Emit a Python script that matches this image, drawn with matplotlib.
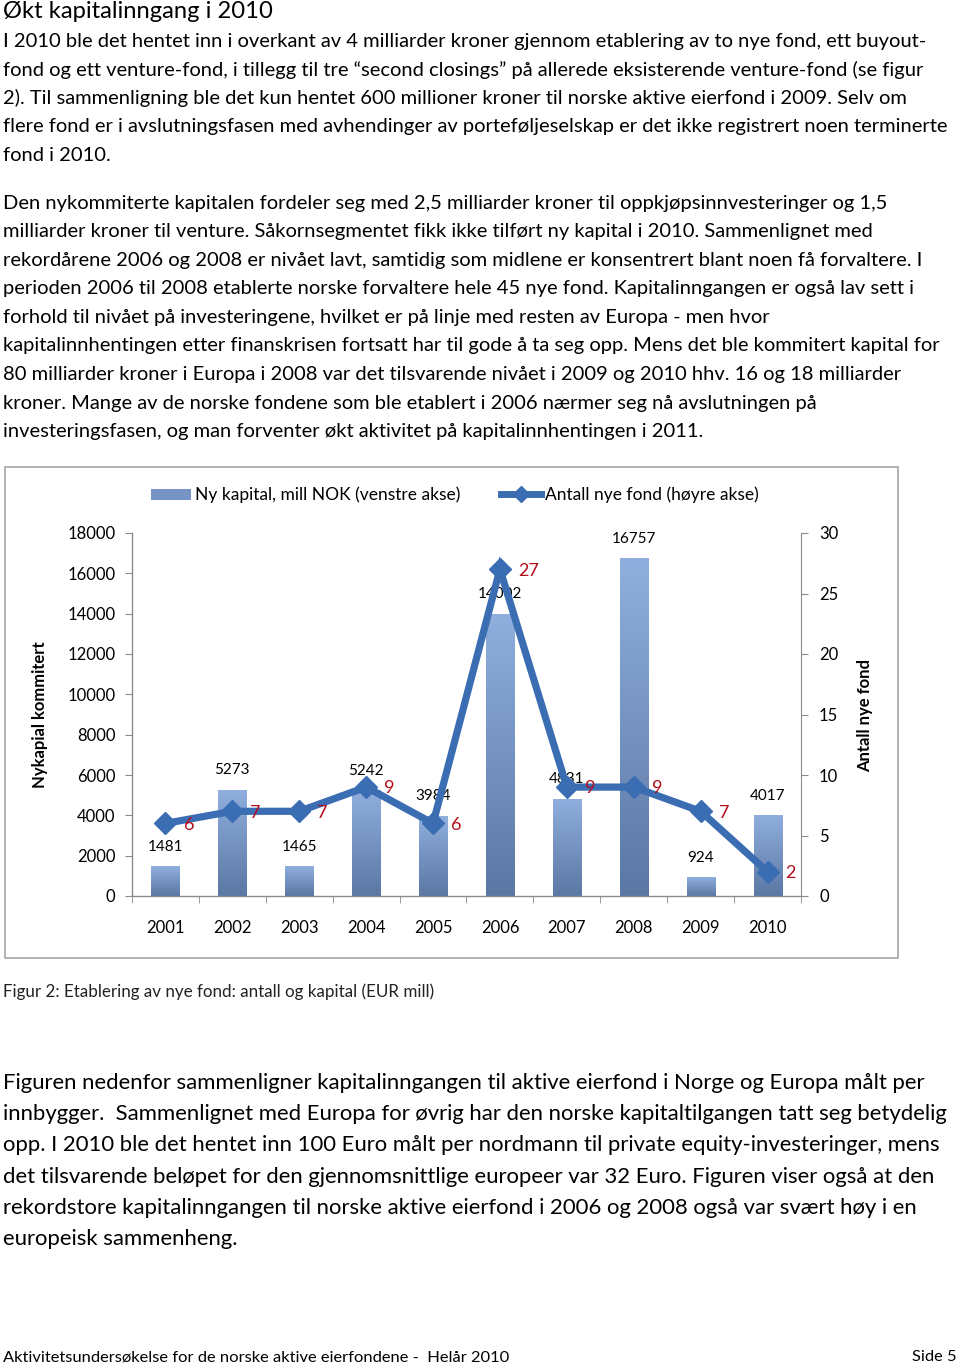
import numpy as np
import matplotlib
matplotlib.use("Agg")
import matplotlib.pyplot as plt
from matplotlib import font_manager
from matplotlib.colors import LinearSegmentedColormap
from matplotlib.patches import Patch, Rectangle
from matplotlib.lines import Line2D

# ---------------- data ----------------
years = ["2001", "2002", "2003", "2004", "2005", "2006", "2007", "2008", "2009", "2010"]
capital = [1481, 5273, 1465, 5242, 3984, 14002, 4831, 16757, 924, 4017]
funds = [6, 7, 7, 9, 6, 27, 9, 9, 7, 2]
left_ticks = [0, 2000, 4000, 6000, 8000, 10000, 12000, 14000, 16000, 18000]
right_ticks = [0, 5, 10, 15, 20, 25, 30]

title = "Økt kapitalinngang i 2010"
para1 = [
    "I 2010 ble det hentet inn i overkant av 4 milliarder kroner gjennom etablering av to nye fond, ett buyout-",
    "fond og ett venture-fond, i tillegg til tre \u201csecond closings\u201d på allerede eksisterende venture-fond (se figur",
    "2). Til sammenligning ble det kun hentet 600 millioner kroner til norske aktive eierfond i 2009. Selv om",
    "flere fond er i avslutningsfasen med avhendinger av porteføljeselskap er det ikke registrert noen terminerte",
    "fond i 2010.",
]
para2 = [
    "Den nykommiterte kapitalen fordeler seg med 2,5 milliarder kroner til oppkjøpsinnvesteringer og 1,5",
    "milliarder kroner til venture. Såkornsegmentet fikk ikke tilført ny kapital i 2010. Sammenlignet med",
    "rekordårene 2006 og 2008 er nivået lavt, samtidig som midlene er konsentrert blant noen få forvaltere. I",
    "perioden 2006 til 2008 etablerte norske forvaltere hele 45 nye fond. Kapitalinngangen er også lav sett i",
    "forhold til nivået på investeringene, hvilket er på linje med resten av Europa - men hvor",
    "kapitalinnhentingen etter finanskrisen fortsatt har til gode å ta seg opp. Mens det ble kommitert kapital for",
    "80 milliarder kroner i Europa i 2008 var det tilsvarende nivået i 2009 og 2010 hhv. 16 og 18 milliarder",
    "kroner. Mange av de norske fondene som ble etablert i 2006 nærmer seg nå avslutningen på",
    "investeringsfasen, og man forventer økt aktivitet på kapitalinnhentingen i 2011.",
]
caption = "Figur 2: Etablering av nye fond: antall og kapital (EUR mill)"
para3 = [
    "Figuren nedenfor sammenligner kapitalinngangen til aktive eierfond i Norge og Europa målt per",
    "innbygger.  Sammenlignet med Europa for øvrig har den norske kapitaltilgangen tatt seg betydelig",
    "opp. I 2010 ble det hentet inn 100 Euro målt per nordmann til private equity-investeringer, mens",
    "det tilsvarende beløpet for den gjennomsnittlige europeer var 32 Euro. Figuren viser også at den",
    "rekordstore kapitalinngangen til norske aktive eierfond i 2006 og 2008 også var svært høy i en",
    "europeisk sammenheng.",
]
footer_left = "Aktivitetsundersøkelse for de norske aktive eierfondene -  Helår 2010"
footer_right = "Side 5"
legend_bar = "Ny kapital, mill NOK (venstre akse)"
legend_line = "Antall nye fond (høyre akse)"
ylabel_left = "Nykapial kommitert"
ylabel_right = "Antall nye fond"

# layout: right end (px) of each text line in the reference page
ends1 = [945, 936, 932, 953, None]
ends2 = [906, 890, 935, 925, 787, 948, 926, 831, 712]
ends3 = [938, 956, 945, 938, 923, None]

# ---------------- fonts ----------------
names = {f.name for f in font_manager.fontManager.ttflist}
body_font = "Lato" if "Lato" in names else "DejaVu Sans"
chart_font = body_font

W, H = 960, 1365
fig = plt.figure(figsize=(W / 100, H / 100), dpi=100)
fig.patch.set_facecolor("white")
renderer = fig.canvas.get_renderer()


def fx(px):
    return px / W


def fy(py):
    return 1 - py / H


def width_at20(text, family, weight="normal"):
    t = fig.text(0, 0, text, fontsize=20, family=family, weight=weight)
    w = t.get_window_extent(renderer).width
    t.remove()
    return w


def fit_size(text, family, target_px, weight="normal"):
    return 20 * target_px / width_at20(text, family, weight)


def para_size(lines, ends, family=body_font):
    ratios, caps = [], []
    for s, e in zip(lines, ends):
        w = width_at20(s, family)
        caps.append(20 * (955 - 3) / w)
        if e is not None:
            ratios.append(20 * (e - 3) / w)
    return min(float(np.median(ratios)), min(caps))


def put_lines(lines, y0, step, size, family=body_font, color="black"):
    for k, s in enumerate(lines):
        fig.text(fx(3), fy(y0 + k * step), s, fontsize=size, family=family,
                 ha="left", va="center", color=color)


# ---------------- text ----------------
fs_title = fit_size(title, body_font, 270)
fig.text(fx(3), fy(12), title, fontsize=fs_title, family=body_font, ha="left", va="center")
fs1 = para_size(para1, ends1)
fs2 = para_size(para2, ends2)
fs12 = min(fs1, fs2)
put_lines(para1, 41, 28.6, fs12)
put_lines(para2, 203, 28.6, fs12)
fs_cap = fit_size(caption, body_font, 432)
fig.text(fx(3), fy(992), caption, fontsize=fs_cap, family=body_font, ha="left", va="center",
         color="#222222")
fs3 = para_size(para3, ends3)
put_lines(para3, 1083, 31.2, fs3)
fs_f = fit_size(footer_left, body_font, 507)
fig.text(fx(3), fy(1357), footer_left, fontsize=fs_f, family=body_font, ha="left", va="center")
fig.text(fx(957), fy(1357), footer_right, fontsize=fs_f, family=body_font, ha="right", va="center")

# chart frame
fig.add_artist(Rectangle((fx(5), fy(958)), fx(898) - fx(5), fy(467) - fy(958),
                         transform=fig.transFigure, fill=False, edgecolor="#A6A6A6", lw=1.2))

# ---------------- chart ----------------
ax = fig.add_axes([fx(132), fy(896), fx(801) - fx(132), fy(533) - fy(896)])
ax.set_facecolor("none")
x = np.arange(len(years))
bw = 0.42
cmap = LinearSegmentedColormap.from_list("bargrad", ["#5B77A4", "#90AFDE"])
bars = ax.bar(x, capital, width=bw, color="none", edgecolor="none", zorder=2)
grad = np.linspace(0, 1, 256).reshape(-1, 1)
for b in bars:
    x0, y0 = b.get_x(), b.get_y()
    im = ax.imshow(grad, extent=[x0, x0 + b.get_width(), y0, y0 + b.get_height()],
                   origin="lower", aspect="auto", cmap=cmap, zorder=2)
    im.set_clip_path(b)
for i, v in enumerate(capital):
    ax.annotate(str(v), (x[i], v), xytext=(0, 14), textcoords="offset points",
                ha="center", va="center", fontsize=11, family=chart_font, color="black", zorder=3)

ax.set_xlim(-0.5, len(years) - 0.5)
ax.set_ylim(0, 18000)
ax.set_yticks(left_ticks)
ax.set_yticklabels([str(t) for t in left_ticks], fontsize=12, family=chart_font)
ax.set_xticks(x)
ax.set_xticklabels(years, fontsize=12, family=chart_font)
ax.set_xticks(np.arange(-0.5, len(years), 1.0), minor=True)
ax.tick_params(axis="x", which="major", length=0, pad=17)
ax.tick_params(axis="x", which="minor", length=5, color="#8C8C8C", direction="out")
ax.tick_params(axis="y", length=5, color="#8C8C8C", pad=7, direction="out")
for s in ["top", "right"]:
    ax.spines[s].set_visible(False)
for s in ["left", "bottom"]:
    ax.spines[s].set_color("#8C8C8C")
    ax.spines[s].set_linewidth(1.0)

ax2 = ax.twinx()
ax2.set_ylim(0, 30)
ax2.set_yticks(right_ticks)
ax2.set_yticklabels([str(t) for t in right_ticks], fontsize=12, family=chart_font)
ax2.tick_params(axis="y", length=5, color="#8C8C8C", pad=8, direction="out")
for s in ["top", "left", "bottom"]:
    ax2.spines[s].set_visible(False)
ax2.spines["right"].set_color("#8C8C8C")
line_color = "#3B6DB3"
ax2.plot(x, funds, color=line_color, lw=5.2, marker="D", markersize=11,
         markerfacecolor=line_color, markeredgecolor=line_color, zorder=4,
         solid_joinstyle="miter")
for i, v in enumerate(funds):
    ax2.annotate(str(v), (x[i], v), xytext=(13, -1), textcoords="offset points",
                 ha="left", va="center", fontsize=13, family=chart_font, color="#B00F1B", zorder=5)

fig.text(fx(40), fy(715), ylabel_left, rotation=90, fontsize=12, weight="bold",
         family=chart_font, ha="center", va="center")
fig.text(fx(865), fy(715), ylabel_right, rotation=90, fontsize=12, weight="bold",
         family=chart_font, ha="center", va="center")

handles = [Patch(facecolor="#7694C6", edgecolor="none"),
           Line2D([], [], color=line_color, lw=5, marker="D", markersize=8)]
fig.legend(handles, [legend_bar, legend_line], loc="center",
           bbox_to_anchor=(fx(455), fy(495)), ncol=2, frameon=False,
           prop={"family": chart_font, "size": 12.5}, handlelength=2.3,
           handletextpad=0.25, columnspacing=2.3, handleheight=0.6)

fig.savefig("out.png", dpi=100)
